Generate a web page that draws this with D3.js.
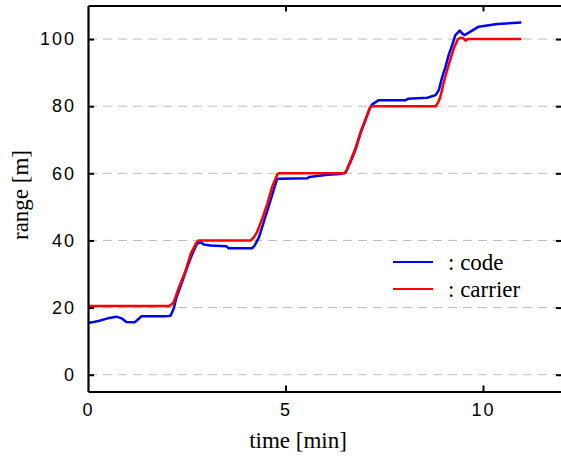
<!DOCTYPE html>
<html>
<head>
<meta charset="utf-8">
<script src="https://cdn.jsdelivr.net/npm/d3@7"></script>
<style>
  html, body { margin: 0; padding: 0; background: #fff; }
  svg { display: block; }
  .tick text { font-family: "Liberation Sans"; font-size: 18px; letter-spacing: 2px; }
  .serif { font-family: "Liberation Serif"; font-size: 23px; }
</style>
</head>
<body>
<svg id="chart" width="561" height="460"></svg>
<script>
// ---- data ----
const xTicks = [0, 5, 10];
const yTicks = [0, 20, 40, 60, 80, 100];
const seriesNames = [": code", ": carrier"];
const seriesColors = ["#0000ff", "#ff0000"];

const codeTime = [0, 0.1, 0.29, 0.5, 0.72, 0.85, 0.97, 1.18, 1.25, 1.35, 1.94, 2.03, 2.09, 2.17, 2.23, 2.38, 2.51, 2.64, 2.76, 2.85, 2.93, 3.1, 3.5, 3.56, 4.16, 4.22, 4.33, 4.45, 4.58, 4.70, 4.79, 4.85, 5.55, 5.6, 6.06, 6.39, 6.52, 6.65, 6.77, 6.90, 7.03, 7.13, 7.19, 7.36, 8.04, 8.1, 8.59, 8.80, 8.88, 8.97, 9.05, 9.13, 9.22, 9.30, 9.41, 9.47, 9.53, 9.64, 9.89, 10.36, 10.97];
const codeRange = [15.4, 15.6, 16.1, 16.8, 17.3, 16.8, 15.7, 15.6, 16.3, 17.4, 17.4, 17.5, 17.6, 19.7, 22.7, 27.6, 32, 36, 39, 39.5, 38.8, 38.5, 38.3, 37.7, 37.7, 38.5, 41, 45.5, 50.4, 55, 58.4, 58.4, 58.5, 58.9, 59.6, 59.8, 60.2, 63.5, 67, 72, 76, 79.3, 80.5, 81.8, 81.8, 82.2, 82.5, 83.3, 84.8, 88.8, 91.7, 95.2, 98.2, 101.2, 102.5, 101.7, 101.2, 101.9, 103.7, 104.5, 104.9];

const carrierTime = [0, 2.05, 2.12, 2.17, 2.30, 2.47, 2.60, 2.75, 2.80, 4.12, 4.20, 4.28, 4.41, 4.54, 4.66, 4.79, 4.82, 6.49, 6.55, 6.65, 6.77, 6.90, 7.03, 7.13, 7.16, 8.80, 8.86, 8.92, 9.00, 9.09, 9.18, 9.26, 9.36, 9.43, 9.50, 9.56, 9.61, 10.97];
const carrierRange = [20.5, 20.5, 21.0, 21.6, 26, 31, 36, 39.5, 40, 40, 41, 42.5, 46.5, 51, 55.9, 59.6, 60, 60, 61, 63.9, 67.4, 72.3, 76.3, 79.3, 80, 80, 81, 82.8, 86.8, 90.7, 94.2, 97.2, 99.9, 100.4, 100.3, 99.5, 100, 100];

// ---- layout ----
const svg = d3.select("#chart");
const pLeft = 88, pRight = 562, pTop = 5.5, pBottom = 391.5;
const x = d3.scaleLinear().domain([0, 12]).range([pLeft, pRight]);
const y = d3.scaleLinear().domain([-5, 110]).range([pBottom, pTop]);

// grid
svg.append("g").selectAll("line").data(yTicks).join("line")
  .attr("x1", pLeft).attr("x2", pRight)
  .attr("y1", d => y(d)).attr("y2", d => y(d))
  .attr("stroke", "#bdbdbd").attr("stroke-width", 1)
  .attr("stroke-dasharray", "9,6");

// series
const series = [
  { t: codeTime, v: codeRange },
  { t: carrierTime, v: carrierRange }
];
const line = d3.line().x(d => x(d[0])).y(d => y(d[1]));
series.forEach((s, i) => {
  svg.append("path")
    .datum(s.t.map((t, k) => [t, s.v[k]]))
    .attr("fill", "none")
    .attr("stroke", seriesColors[i])
    .attr("stroke-width", 2.5)
    .attr("stroke-linejoin", "round")
    .attr("d", line);
});

// axes (ticks inward)
const axB = svg.append("g").attr("transform", `translate(0,${pBottom})`)
  .call(d3.axisBottom(x).tickValues(xTicks).tickSize(-6).tickPadding(12).tickSizeOuter(0));
const axT = svg.append("g").attr("transform", `translate(0,${pTop})`)
  .call(d3.axisTop(x).tickValues(xTicks).tickSize(-6).tickFormat("").tickSizeOuter(0));
const axL = svg.append("g").attr("transform", `translate(${pLeft},0)`)
  .call(d3.axisLeft(y).tickValues(yTicks).tickSize(-6).tickPadding(12).tickSizeOuter(0));
const axR = svg.append("g").attr("transform", `translate(${pRight},0)`)
  .call(d3.axisRight(y).tickValues(yTicks).tickSize(-6).tickFormat("").tickSizeOuter(0));
[axB, axT, axL, axR].forEach(a => {
  a.attr("font-family", null).attr("font-size", null);
  a.select(".domain").attr("stroke", "#000").attr("stroke-width", 2.2);
  a.selectAll(".tick line").attr("stroke", "#000").attr("stroke-width", 2);
  a.selectAll("text").attr("fill", "#000");
});
axB.selectAll(".tick line").filter(d => d === 0).remove();
axT.selectAll(".tick line").filter(d => d === 0).remove();

// axis titles
svg.append("text").attr("class", "serif").attr("x", 298).attr("y", 448)
  .attr("text-anchor", "middle").text("time [min]");
svg.append("text").attr("class", "serif").attr("transform", "translate(28,195) rotate(-90)")
  .attr("text-anchor", "middle").text("range [m]");

// legend
const legY = [262, 289];
seriesNames.forEach((n, i) => {
  svg.append("line").attr("x1", 393).attr("x2", 433)
    .attr("y1", legY[i]).attr("y2", legY[i])
    .attr("stroke", seriesColors[i]).attr("stroke-width", 2);
  svg.append("text").attr("class", "serif").attr("x", 448).attr("y", legY[i] + 8).text(n);
});
</script>
</body>
</html>
